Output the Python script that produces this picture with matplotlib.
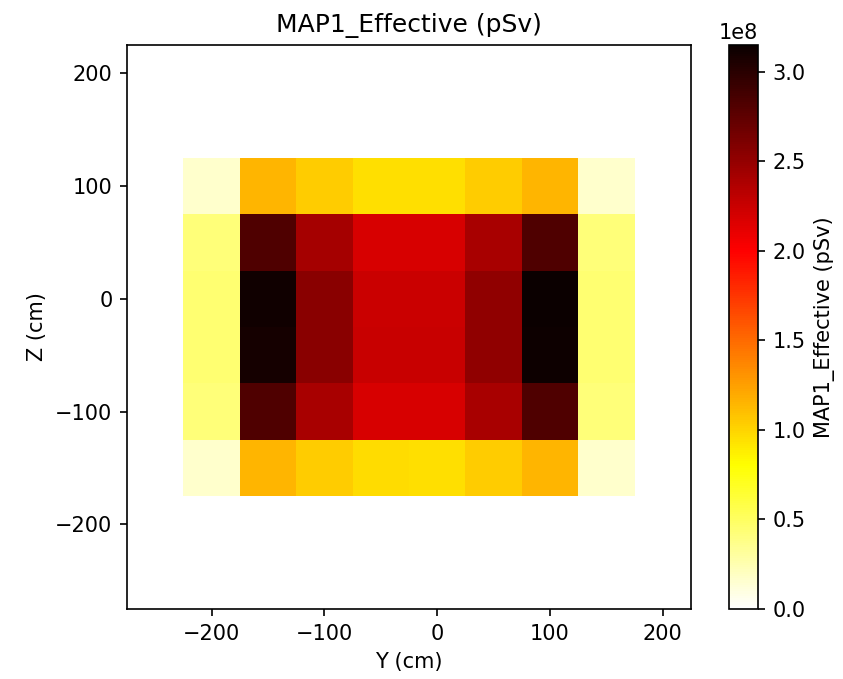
import numpy as np
import matplotlib
matplotlib.use("Agg")
import matplotlib.pyplot as plt

# cell edges (cm)
y_edges = [-225, -175, -125, -75, -25, 25, 75, 125, 175]
z_edges = [-175, -125, -75, -25, 25, 75, 125]

# dose values (1e8 pSv), rows from bottom (z=-150) to top (z=100)
row_m150 = [0.16, 1.15, 1.04, 0.96, 0.95, 1.04, 1.15, 0.16]
row_m100 = [0.42, 2.82, 2.41, 2.18, 2.18, 2.40, 2.82, 0.42]
row_m50 = [0.45, 3.10, 2.55, 2.26, 2.26, 2.52, 3.13, 0.45]
row_0 = [0.45, 3.12, 2.55, 2.24, 2.24, 2.52, 3.15, 0.45]
row_50 = [0.42, 2.82, 2.42, 2.18, 2.18, 2.40, 2.82, 0.42]
row_100 = [0.16, 1.15, 1.04, 0.95, 0.95, 1.04, 1.15, 0.16]

dose = np.array([row_m150, row_m100, row_m50, row_0, row_50, row_100]) * 1e8

# default sizes at 150 dpi, same pixel size as the reference
fig = plt.figure(figsize=(843/150, 679/150), dpi=150)
ax = fig.add_axes([127/843, 70/679, 564/843, 564/679])
cax = fig.add_axes([729/843, 70/679, 29/843, 564/679])

mesh = ax.pcolormesh(y_edges, z_edges, dose, cmap="hot_r", vmin=0, vmax=dose.max())
ax.set_xlim(-275, 225)
ax.set_ylim(-275, 225)
ax.set_aspect("equal")
ax.set_title("MAP1_Effective (pSv)")
ax.set_xlabel("Y (cm)")
ax.set_ylabel("Z (cm)")

cb = fig.colorbar(mesh, cax=cax)
cb.set_label("MAP1_Effective (pSv)")

fig.savefig("out.png", dpi=150)
